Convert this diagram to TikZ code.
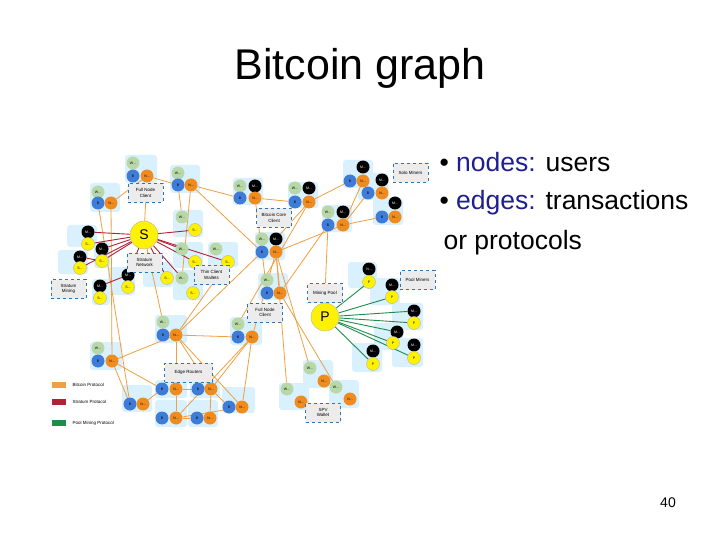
\documentclass[tikz,border=0pt]{standalone}
\usepackage{fontspec}
\setmainfont{Liberation Sans}
\pgfdeclarelayer{bg0}\pgfdeclarelayer{bg}\pgfdeclarelayer{edl}
\pgfsetlayers{bg0,bg,edl,main}
\definecolor{ored}{HTML}{F0A040}
\definecolor{rred}{HTML}{B22234}
\definecolor{ggr}{HTML}{1E8C4A}
\definecolor{cblue}{HTML}{3E7CD8}
\definecolor{corg}{HTML}{F08C1E}
\definecolor{cgrn}{HTML}{B8D8A8}
\definecolor{navy}{HTML}{1F1F8F}
\definecolor{lbb}{HTML}{2E75B6}
\tikzset{x=1pt,y=-1pt,
 ccir/.style={circle,minimum size=13pt,inner sep=0pt,font=\fontsize{3.5}{4}\selectfont},
 cw/.style={ccir,fill=cgrn},
 cb/.style={ccir,fill=cblue,text=black},
 cn/.style={ccir,fill=corg},
 cmk/.style={ccir,fill=black,text=white},
 csy/.style={ccir,fill=yellow,draw=gray!60,thin},
 big/.style={circle,fill=yellow,draw=gray!60,minimum size=28pt,inner sep=0pt,font=\fontsize{14}{14}\selectfont},
 lb/.style={draw=lbb,dashed,line width=1pt,fill=gray!15,minimum width=35pt,minimum height=19pt,align=center,inner sep=1pt,font=\fontsize{4.5}{5.5}\selectfont},
 grpst/.style={fill=blue!40!cyan!15,rounded corners=3pt},
 oe/.style={draw=ored,line width=0.8pt},
 re/.style={draw=rred,line width=0.9pt},
 ge/.style={draw=ggr,line width=0.9pt},
}
\newcommand\grp[4]{\begin{pgfonlayer}{bg}\fill[grpst] (#1,#2) rectangle (#3,#4);\end{pgfonlayer}}
\begin{document}
\begin{tikzpicture}
\useasboundingbox (0,0) rectangle (720,540);
\begin{pgfonlayer}{bg0}\fill[white] (0,0) rectangle (720,540);\end{pgfonlayer}
\node[font=\fontsize{43}{48}\selectfont] (title) at (360,68) {Bitcoin graph};
\node[anchor=west,font=\fontsize{26.5}{30}\selectfont] (b1) at (436,162) {\textbullet\ \textcolor{navy}{nodes:} users};
\node[anchor=west,font=\fontsize{26.5}{30}\selectfont] (b2) at (436,203) {\textbullet\ \textcolor{navy}{edges:} transactions};
\node[anchor=west,font=\fontsize{26.5}{30}\selectfont] (b3) at (440,243) {or protocols};
\node[font=\fontsize{14}{16}\selectfont] (pg) at (668,503) {40};
% groups
\grp{125}{155}{157}{183}\grp{170}{165}{200}{193}\grp{90}{183}{120}{212}
\grp{173}{210}{203}{237}\grp{67}{225}{97}{247}\grp{58}{250}{88}{274}
\grp{94}{242}{110}{268}\grp{173}{242}{203}{268}\grp{208}{242}{238}{267}
\grp{143}{262}{173}{287}\grp{173}{270}{203}{300}\grp{108}{267}{135}{295}
\grp{92}{279}{110}{305}
\grp{233}{178}{263}{205}\grp{288}{182}{318}{208}\grp{343}{160}{373}{188}
\grp{358}{173}{388}{200}\grp{373}{198}{403}{225}\grp{322}{205}{352}{232}
\grp{255}{232}{285}{260}\grp{258}{273}{288}{300}
\grp{348}{262}{377}{288}\grp{370}{278}{400}{305}\grp{392}{303}{423}{330}
\grp{374}{323}{403}{350}\grp{392}{338}{423}{367}\grp{352}{343}{382}{372}
\grp{303}{360}{333}{388}\grp{279}{383}{309}{410}\grp{329}{380}{359}{408}
\grp{155}{315}{187}{343}\grp{230}{317}{262}{345}\grp{90}{342}{122}{370}
\grp{155}{380}{187}{398}\grp{190}{380}{220}{398}\grp{122}{385}{152}{412}
\grp{155}{400}{187}{427}\grp{188}{400}{218}{427}\grp{222}{387}{255}{413}
% top-left circles
\node[cw] (aW) at (133,163) {W...};\node[cb] (aB) at (133,176) {B};\node[cn] (aN) at (147,176) {N...};
\node[cw] (bW) at (178,173) {W...};\node[cb] (bB) at (178,185) {B};\node[cn] (bN) at (191,185) {N...};
\node[cw] (cW) at (98,192) {W...};\node[cb] (cB) at (98,203) {B};\node[cn] (cN) at (111,203) {N...};
\node[big] (S) at (144,235) {S};
\node[cw] (dW) at (182,217) {W...};\node[csy] (dS) at (195,230) {S...};
\node[cmk] (eM) at (88,232) {M...};\node[csy] (eS) at (88,244) {S...};
\node[cmk] (fM) at (80,257) {M...};\node[csy] (fS) at (80,268) {S...};
\node[cmk] (gM) at (102,249) {M...};\node[csy] (gS) at (102,261) {S...};
\node[cw] (hW) at (182,249) {W...};\node[csy] (hS) at (195,262) {S...};
\node[cw] (iW) at (216,249) {W...};\node[csy] (iS) at (228,262) {S...};
\node[csy] (jS) at (167,278) {S...};
\node[cw] (kW) at (182,278) {W...};\node[csy] (kS) at (193,293) {S...};
\node[cmk] (lM) at (128,275) {M...};\node[csy] (lS) at (128,287) {S...};
\node[cmk] (mM) at (100,286) {M...};\node[csy] (mS) at (100,298) {S...};
\node[lb] (lbFull1) at (145.5,193) {Full Node\\Client};
\node[lb] (lbStrat) at (144.5,262.5) {Stratum\\Network};
\node[lb] (lbThin) at (211.5,275) {Thin Client\\Wallets};
\node[lb] (lbSM) at (68.5,289) {Stratum\\Mining};
% top-right
\node[cw] (t1W) at (240,186) {W...};\node[cmk] (t1M) at (255,186) {M...};\node[cb] (t1B) at (240,198) {B};\node[cn] (t1N) at (255,198) {N...};
\node[cw] (t2W) at (295,188) {W...};\node[cmk] (t2M) at (309,188) {M...};\node[cb] (t2B) at (295,202) {B};\node[cn] (t2N) at (309,202) {N...};
\node[cmk] (t3M) at (363,167) {M...};\node[cb] (t3B) at (350,181) {B};\node[cn] (t3N) at (363,181) {N...};
\node[cmk] (t4M) at (382,180) {M...};\node[cb] (t4B) at (368,193) {B};\node[cn] (t4N) at (382,193) {N...};
\node[cmk] (t5M) at (395,203) {M...};\node[cb] (t5B) at (382,217) {B};\node[cn] (t5N) at (395,217) {N...};
\node[cw] (t6W) at (328,212) {W...};\node[cmk] (t6M) at (343,212) {M...};\node[cb] (t6B) at (328,225) {B};\node[cn] (t6N) at (343,225) {N...};
\node[cw] (t7W) at (262,239) {W...};\node[cmk] (t7M) at (276,239) {M...};\node[cb] (t7B) at (262,252) {B};\node[cn] (t7N) at (276,252) {N...};
\node[cw] (t8W) at (267,280) {W...};\node[cb] (t8B) at (267,293) {B};\node[cn] (t8N) at (280,293) {N...};
\node[lb] (lbCore) at (274,218) {Bitcoin Core\\Client};
\node[lb] (lbSolo) at (410.5,173) {Solo Miners};
\node[lb] (lbPool) at (325,293) {Mining Pool};
\node[lb] (lbPM) at (417.5,280) {Pool Miners};
\node[lb] (lbFull2) at (265,312.5) {Full Node\\Client};
\node[big] (P) at (325,317) {P};
\node[cmk] (p1M) at (369,269) {N...};\node[csy] (p1P) at (369,282) {P};
\node[cmk] (p2M) at (392,285) {M...};\node[csy] (p2P) at (392,297) {P};
\node[cmk] (p3M) at (414,311) {M...};\node[csy] (p3P) at (414,323) {P};
\node[cmk] (p4M) at (397,332) {M...};\node[csy] (p4P) at (393,343) {P};
\node[cmk] (p5M) at (414,345) {M...};\node[csy] (p5P) at (414,358) {P};
\node[cmk] (p6M) at (373,351) {M...};\node[csy] (p6P) at (373,364) {P};
\node[cw] (v1W) at (310,368) {W...};\node[cn] (v1N) at (324,381) {N...};
\node[cw] (v2W) at (287,389) {W...};\node[cn] (v2N) at (301,402) {N...};
\node[cw] (v3W) at (336,387) {W...};\node[cn] (v3N) at (350,399) {N...};
\node[lb] (lbSPV) at (323,412.5) {SPV\\Wallet};
% bottom-left
\node[cw] (u1W) at (163,322) {W...};\node[cb] (u1B) at (163,335) {B};\node[cn] (u1N) at (176,335) {N...};
\node[cw] (u2W) at (238,324) {W...};\node[cb] (u2B) at (238,337) {B};\node[cn] (u2N) at (252,337) {N...};
\node[cw] (u3W) at (98,348) {W...};\node[cb] (u3B) at (98,361) {B};\node[cn] (u3N) at (112,361) {N...};
\node[cb] (e1B) at (162,389) {B};\node[cn] (e1N) at (176,389) {N...};
\node[cb] (e2B) at (198,389) {B};\node[cn] (e2N) at (211,389) {N...};
\node[cb] (u5B) at (130,404) {B};\node[cn] (u5N) at (143,404) {N...};
\node[cb] (u6B) at (162,418) {B};\node[cn] (u6N) at (176,418) {N...};
\node[cb] (u7B) at (197,418) {B};\node[cn] (u7N) at (210,418) {N...};
\node[cb] (u8B) at (229,407) {B};\node[cn] (u8N) at (242,407) {N...};
\node[lb,minimum width=48pt] (lbEdge) at (188.5,372.5) {Edge Routers};
% legend
\fill[ored] (52,382) rectangle (66,388);\node[anchor=west,font=\fontsize{4.5}{5}\selectfont] (lg1) at (69,385) {Bitcoin Protocol};
\fill[rred] (52,399) rectangle (66,405);\node[anchor=west,font=\fontsize{4.5}{5}\selectfont] (lg2) at (69,402) {Stratum Protocol};
\fill[ggr] (52,420) rectangle (66,426);\node[anchor=west,font=\fontsize{4.5}{5}\selectfont] (lg3) at (69,423) {Pool Mining Protocol};
% edges
\begin{pgfonlayer}{edl}
\foreach \a/\b in {aN/bB,aN/cN,aN/S,bN/t1B,bN/t7B,bB/dW,bN/kW,cN/u3N,cB/u5B,t1N/t7B,t2N/t7M,t2N/t3B,t6N/t3N,t6N/t4B,t6N/t5B,t6N/t7N,t6B/t8N,t6B/lbPool,t2B/t1N,t7N/t8N,t7B/t8B,t7N/u2N,t7B/u1N,t7N/v1W,t7N/v2W,t8N/v3W,u1N/u2B,u1N/u3N,u1N/e1N,u1N/e2N,u1N/u8N,u3N/u5B,u3N/e1B,u2N/u6N,u2N/u8N,u2N/e2N,e1N/e2N,e1N/u6N,e2N/u7N,u6N/u7B,u5N/e1B,e2N/u8B,u6N/u8N,iS/u1N,t2N/u2W,S/u1W}
  \draw[oe] (\a) -- (\b);
\foreach \b in {eS,eM,fS,gM,gS,hW,hS,dS,iS,kW,lM,jS}
  \draw[re] (S) -- (\b);
\draw[re] (lM) -- (mM);\draw[re] (gS) -- (fM);
\foreach \b in {p1P,p2P,p3P,p3M,p4M,p4P,p5P,p6P}
  \draw[ge] (P) -- (\b);
\end{pgfonlayer}
\end{tikzpicture}
\end{document}
